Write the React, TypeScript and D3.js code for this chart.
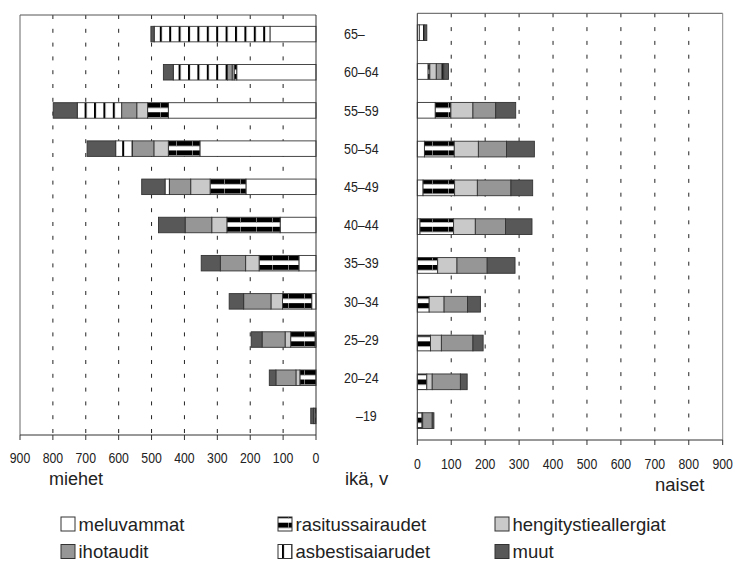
import React from "react";
import * as d3 from "d3";

const ageGroups = ["65–", "60–64", "55–59", "50–54", "45–49", "40–44", "35–39", "30–34", "25–29", "20–24", "–19"];
const seriesKeys = ["meluvammat", "rasitussairaudet", "hengitystieallergiat", "ihotaudit", "asbestisaiarudet", "muut"];

// miehet (men)
const menMeluvammat = [140, 241, 449, 353, 213, 109, 52, 13, 3, 0, 0];
const menRasitus = [0, 8, 63, 96, 109, 162, 121, 89, 74, 49, 3];
const menHengitys = [0, 6, 33, 44, 59, 46, 41, 35, 17, 12, 0];
const menIho = [0, 14, 46, 65, 65, 81, 77, 83, 70, 61, 5];
const menAsbesti = [352, 165, 135, 51, 13, 0, 0, 0, 0, 0, 0];
const menMuut = [10, 30, 73, 87, 71, 81, 58, 44, 33, 20, 8];

// naiset (women)
const womenMeluvammat = [6, 32, 53, 21, 17, 8, 0, 0, 0, 0, 0];
const womenRasitus = [0, 5, 46, 88, 93, 99, 60, 35, 39, 28, 14];
const womenHengitys = [0, 19, 65, 71, 67, 64, 57, 44, 32, 16, 2];
const womenIho = [0, 17, 67, 83, 99, 89, 89, 69, 93, 83, 28];
const womenAsbesti = [14, 5, 0, 0, 0, 0, 0, 0, 0, 0, 0];
const womenMuut = [8, 14, 59, 82, 64, 78, 82, 38, 30, 20, 5];

const tickValues = [0, 100, 200, 300, 400, 500, 600, 700, 800, 900];
const legendRows = [
  ["meluvammat", "rasitussairaudet", "hengitystieallergiat"],
  ["ihotaudit", "asbestisaiarudet", "muut"],
];

const FILL: Record<string, string> = {
  meluvammat: "#ffffff",
  rasitussairaudet: "url(#pRas)",
  hengitystieallergiat: "#c9c9c9",
  ihotaudit: "#969696",
  asbestisaiarudet: "url(#pAsb)",
  muut: "#585858",
};

const FONT = "'Liberation Sans', Arial, Helvetica, sans-serif";

function buildRows(arrs: number[][]) {
  return ageGroups.map((g, i) => {
    const o: any = { age: g };
    seriesKeys.forEach((k, j) => (o[k] = arrs[j][i]));
    return o;
  });
}

const menRows = buildRows([menMeluvammat, menRasitus, menHengitys, menIho, menAsbesti, menMuut]);
const womenRows = buildRows([womenMeluvammat, womenRasitus, womenHengitys, womenIho, womenAsbesti, womenMuut]);
const stack = d3.stack<any>().keys(seriesKeys);
const menStack = stack(menRows);
const womenStack = stack(womenRows);

const L = { left: 20, right: 316, top: 15, bottom: 435 };
const R = { left: 417.3, right: 722.7, top: 13.3, bottom: 440 };

const xL = d3.scaleLinear().domain([0, 900]).range([L.right, L.left]);
const xR = d3.scaleLinear().domain([0, 900]).range([R.left, R.right]);
const yL = d3.scaleBand<string>().domain(ageGroups).range([L.top, L.bottom]).paddingInner(0.594).paddingOuter(0.297);
const yR = d3.scaleBand<string>().domain(ageGroups).range([R.top, R.bottom]).paddingInner(0.595).paddingOuter(0.2975);

function NText(props: { x: number; y: number; size: number; sx?: number; anchor?: string; children: any }) {
  return (
    <text
      transform={`translate(${props.x},${props.y}) scale(${props.sx ?? 0.82},1)`}
      textAnchor={props.anchor || "start"}
      fontSize={props.size}
      fontFamily={FONT}
      fill="#222"
    >
      {props.children}
    </text>
  );
}

export default function App() {
  const rasPeriod = yL.step() / 4;
  const rasOffset = yL(ageGroups[0]) as number;
  const dash = "4 9.8";

  const gridL = tickValues.filter((t) => t > 0 && t < 900);
  const gridR = tickValues.filter((t) => t > 0 && t < 900);

  return (
    <div style={{ position: "absolute", left: 0, top: 0 }}>
      <svg width={735} height={563} style={{ display: "block", background: "#fff" }}>
        <defs>
          <pattern id="pAsb" patternUnits="userSpaceOnUse" width={9.4} height={20}>
            <rect width={9.4} height={20} fill="#fff" />
            <rect x={0} width={2} height={20} fill="#000" />
          </pattern>
          <pattern
            id="pRas"
            patternUnits="userSpaceOnUse"
            width={16}
            height={rasPeriod}
            patternTransform={`translate(0,${rasOffset})`}
          >
            <rect width={16} height={rasPeriod} fill="#fff" />
            <rect width={16} height={rasPeriod / 2 + 0.3} fill="#000" />
            <rect x={0} width={1} height={rasPeriod / 2 + 0.3} fill="#777" />
          </pattern>
        </defs>

        {/* grid */}
        {gridL.map((t) => (
          <line key={"gl" + t} x1={xL(t)} x2={xL(t)} y1={L.top} y2={L.bottom} stroke="#222" strokeWidth={1} strokeDasharray={dash} />
        ))}
        {gridR.map((t) => (
          <line key={"gr" + t} x1={xR(t)} x2={xR(t)} y1={R.top} y2={R.bottom} stroke="#222" strokeWidth={1} strokeDasharray={dash} />
        ))}

        {/* frames */}
        <line x1={L.left} x2={L.right} y1={L.top} y2={L.top} stroke="#555" />
        <line x1={L.left} x2={L.left} y1={L.top} y2={L.bottom} stroke="#666" />
        <line x1={R.left} x2={R.right} y1={R.top} y2={R.top} stroke="#555" />
        <line x1={R.right} x2={R.right} y1={R.top} y2={R.bottom} stroke="#888" />

        {/* Men bars */}
        {menStack.map((s) => (
          <g key={"m" + s.key}>
            {s.map((d, i) => {
              const w = xL(d[0]) - xL(d[1]);
              if (w <= 0) return null;
              return (
                <rect
                  key={i}
                  x={xL(d[1])}
                  y={yL(ageGroups[i])}
                  width={w}
                  height={yL.bandwidth()}
                  fill={FILL[s.key]}
                  stroke="#333"
                  strokeWidth={0.9}
                />
              );
            })}
          </g>
        ))}
        {/* Women bars */}
        {womenStack.map((s) => (
          <g key={"w" + s.key}>
            {s.map((d, i) => {
              const w = xR(d[1]) - xR(d[0]);
              if (w <= 0) return null;
              return (
                <rect
                  key={i}
                  x={xR(d[0])}
                  y={yR(ageGroups[i])}
                  width={w}
                  height={yR.bandwidth()}
                  fill={FILL[s.key]}
                  stroke="#333"
                  strokeWidth={0.9}
                />
              );
            })}
          </g>
        ))}

        {/* zero axes */}
        <line x1={L.right} x2={L.right} y1={L.top} y2={L.bottom} stroke="#333" />
        <line x1={R.left} x2={R.left} y1={R.top} y2={R.bottom} stroke="#333" />

        {/* bottom axes */}
        <line x1={L.left} x2={L.right} y1={L.bottom} y2={L.bottom} stroke="#333" />
        {tickValues.map((t) => (
          <line key={"tl" + t} x1={xL(t)} x2={xL(t)} y1={L.bottom} y2={L.bottom + 5} stroke="#333" />
        ))}
        <line x1={R.left} x2={R.right} y1={R.bottom} y2={R.bottom} stroke="#333" />
        {tickValues.map((t) => (
          <line key={"tr" + t} x1={xR(t)} x2={xR(t)} y1={R.bottom} y2={R.bottom + 5} stroke="#333" />
        ))}

        {/* tick labels */}
        {tickValues.map((t) => (
          <NText key={"ll" + t} x={xL(t)} y={462.5} size={15} anchor="middle">
            {t}
          </NText>
        ))}
        {tickValues.map((t) => (
          <NText key={"rl" + t} x={xR(t)} y={469} size={15} anchor="middle">
            {t}
          </NText>
        ))}

        {/* category labels */}
        {ageGroups.map((g) => (
          <NText
            key={"c" + g}
            x={g.startsWith("–") ? 356 : 344}
            y={(yL(g) as number) + yL.bandwidth() / 2 + 5.2}
            size={14.5}
            sx={0.86}
          >
            {g}
          </NText>
        ))}

        {/* axis titles */}
        <text x={49} y={484.5} fontSize={18} fontFamily={FONT} fill="#222">miehet</text>
        <text x={345} y={484.5} fontSize={18.5} fontFamily={FONT} fill="#222">ikä, v</text>
        <text x={655} y={491} fontSize={18.5} fontFamily={FONT} fill="#222">naiset</text>

        {/* legend */}
        {legendRows.map((row, ri) =>
          row.map((k, ci) => {
            const x = 61 + ci * 217;
            const y = 517 + ri * 27.5;
            return (
              <g key={"lg" + k}>
                <rect x={x} y={y} width={14} height={14} fill={FILL[k]} stroke="#333" strokeWidth={1} />
                <text x={x + 17.5} y={y + 13.5} fontSize={18.5} fontFamily={FONT} fill="#222">
                  {k}
                </text>
              </g>
            );
          })
        )}
      </svg>
    </div>
  );
}
